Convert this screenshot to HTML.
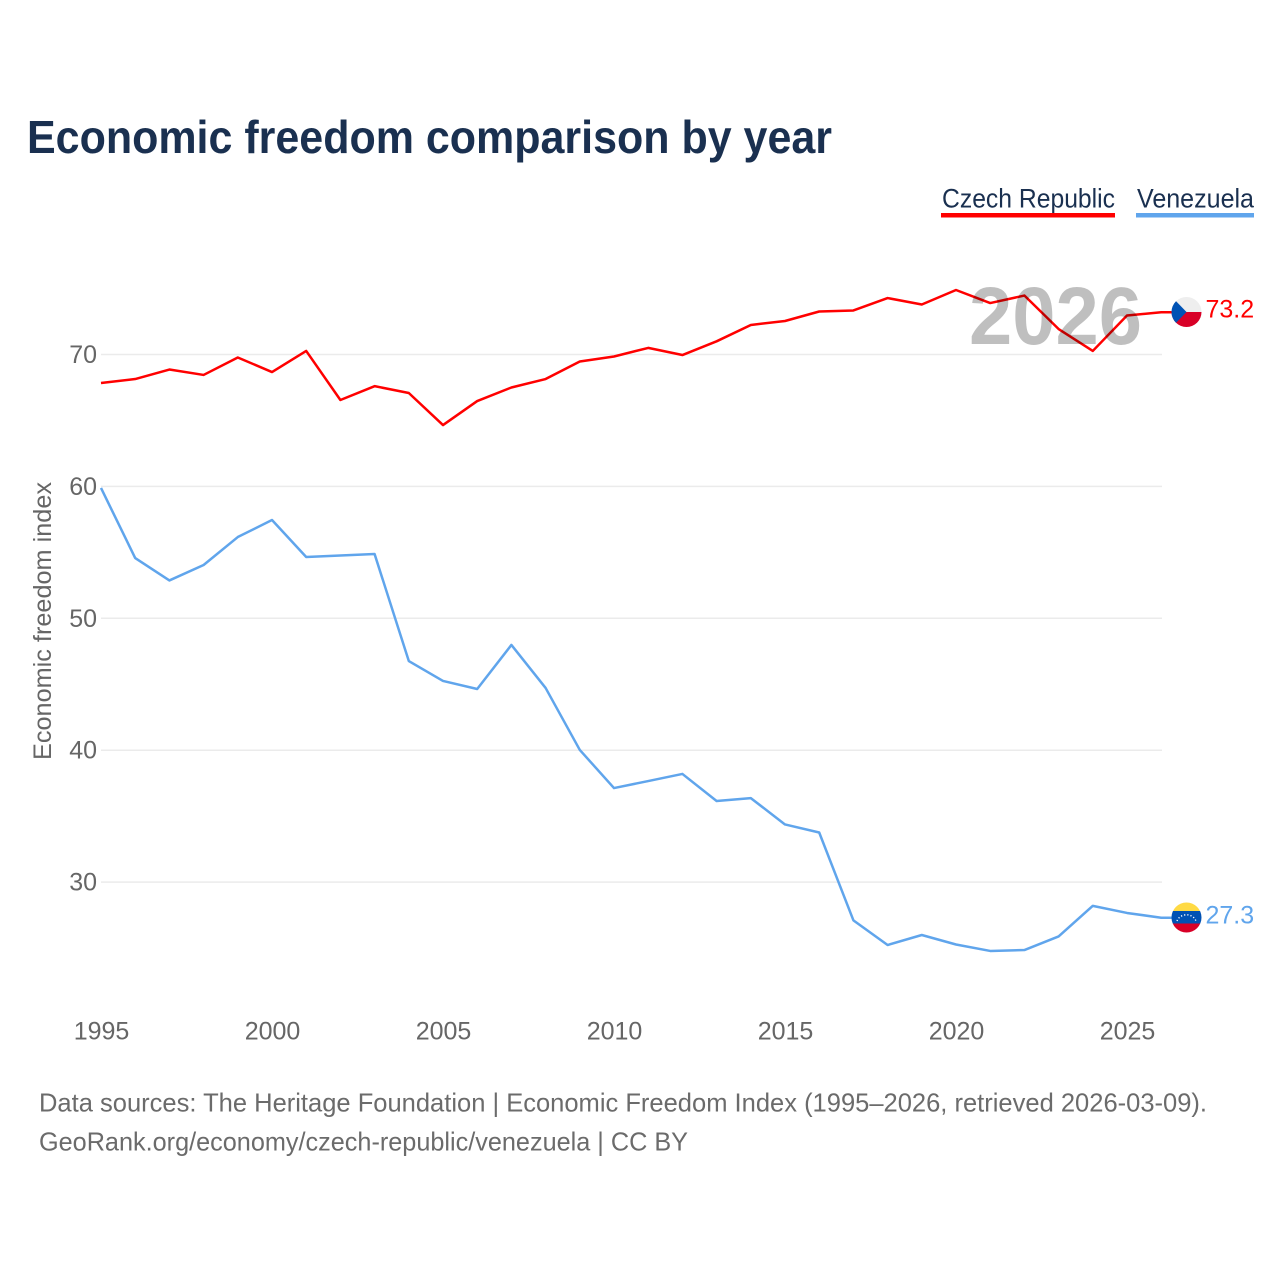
<!DOCTYPE html>
<html lang="en">
<head>
<meta charset="utf-8">
<title>Economic freedom comparison by year</title>
<style>
html,body{margin:0;padding:0;background:#fff;}
svg{display:block;font-family:"Liberation Sans",sans-serif;}
</style>
</head>
<body>
<svg id="chart" width="1280" height="1280" viewBox="0 0 1280 1280" xmlns="http://www.w3.org/2000/svg">
  <defs>
    <clipPath id="flag-clip-cz"><circle cx="1186.5" cy="312" r="15"/></clipPath>
    <clipPath id="flag-clip-ve"><circle cx="1186.5" cy="917.5" r="15"/></clipPath>
  </defs>
  <text x="27" y="153" font-size="46" font-weight="700" fill="#1a3050" textLength="805" lengthAdjust="spacingAndGlyphs">Economic freedom comparison by year</text>

  <g>
    <g>
      <text x="942" y="207.5" font-size="27" fill="#1a3050" textLength="173" lengthAdjust="spacingAndGlyphs">Czech Republic</text>
      <rect x="941" y="213" width="174" height="4.5" fill="#ff0000"/>
    </g>
    <g>
      <text x="1137" y="207.5" font-size="27" fill="#1a3050" textLength="117" lengthAdjust="spacingAndGlyphs">Venezuela</text>
      <rect x="1136" y="213" width="118" height="4.5" fill="#60a5ec"/>
    </g>
  </g>

  <g id="grid"></g>
  <g id="yticks"></g>
  <g id="xticks"></g>
  <text transform="translate(51 760) rotate(-90)" font-size="25" fill="#666" textLength="278" lengthAdjust="spacingAndGlyphs">Economic freedom index</text>

  <g id="series"></g>

  <text x="969" y="344" font-size="82" font-weight="700" fill="#000" fill-opacity="0.25" textLength="173" lengthAdjust="spacingAndGlyphs">2026</text>

  <g clip-path="url(#flag-clip-cz)">
    <rect x="1171" y="296" width="31" height="16" fill="#eeeeee"/>
    <rect x="1171" y="312" width="31" height="16" fill="#d80027"/>
    <polygon points="1171,296 1186.5,312 1171,328" fill="#0052b4"/>
  </g>
  <g clip-path="url(#flag-clip-ve)">
    <rect x="1171" y="902" width="31" height="9" fill="#ffda44"/>
    <rect x="1171" y="911" width="31" height="12.5" fill="#0052b4"/>
    <rect x="1171" y="923.5" width="31" height="10" fill="#d80027"/>
    <path d="M1177 921 A10 9 0 0 1 1196 921" fill="none" stroke="#fff" stroke-width="1.4" stroke-dasharray="1.2 2"/>
  </g>

  <text id="label-cz" x="1205.5" y="317.5" font-size="25" fill="#ff0000"></text>
  <text id="label-ve" x="1205.5" y="923.5" font-size="25" fill="#60a5ec"></text>

  <g>
    <text x="39" y="1111.5" font-size="26" fill="#6b6b6b" textLength="1168" lengthAdjust="spacingAndGlyphs">Data sources: The Heritage Foundation | Economic Freedom Index (1995–2026, retrieved 2026-03-09).</text>
    <text x="39" y="1150.5" font-size="26" fill="#6b6b6b" textLength="649" lengthAdjust="spacingAndGlyphs">GeoRank.org/economy/czech-republic/venezuela | CC BY</text>
  </g>
</svg>
<script>
const years = [1995,1996,1997,1998,1999,2000,2001,2002,2003,2004,2005,2006,2007,2008,2009,2010,2011,2012,2013,2014,2015,2016,2017,2018,2019,2020,2021,2022,2023,2024,2025,2026];
const czechValues = [67.84,68.14,68.86,68.45,69.77,68.67,70.27,66.55,67.6,67.08,64.65,66.47,67.5,68.14,69.47,69.85,70.5,69.96,71,72.24,72.54,73.26,73.34,74.28,73.79,74.89,73.9,74.47,71.93,70.27,72.96,73.2];
const venezuelaValues = [59.88,54.57,52.87,54.04,56.16,57.45,54.65,54.76,54.87,46.76,45.25,44.64,47.98,44.72,40.02,37.13,37.66,38.2,36.15,36.37,34.37,33.76,27.1,25.23,25.99,25.27,24.78,24.85,25.88,28.2,27.66,27.3];
const yTickValues = [70,60,50,40,30];
const xTickValues = [1995,2000,2005,2010,2015,2020,2025];

const NS = 'http://www.w3.org/2000/svg';
function xScale(year){ return 101 + (year - 1995) * 34.2; }
function yScale(v){ return 354.5 + (70 - v) * 13.19; }
function make(tag, attrs, parent){
  const el = document.createElementNS(NS, tag);
  for (const k in attrs) el.setAttribute(k, attrs[k]);
  parent.appendChild(el);
  return el;
}

const grid = document.getElementById('grid');
const yticks = document.getElementById('yticks');
const xticks = document.getElementById('xticks');
const series = document.getElementById('series');

yTickValues.forEach(function(v){
  const line = make('line', {x1:101, x2:1162, y1:yScale(v), y2:yScale(v), stroke:'#ebebeb', 'stroke-width':1.5}, grid);
  
  
  const t = make('text', {x:97, y:yScale(v)+8.5, 'text-anchor':'end', 'font-size':25, fill:'#666'}, yticks);
  t.textContent = String(v);
  
  
});

xTickValues.forEach(function(y){
  const t = make('text', {x:xScale(y)+0.5, y:1039.5, 'text-anchor':'middle', 'font-size':25, fill:'#666'}, xticks);
  t.textContent = String(y);
  
  
});

function drawSeries(values, color){
  const pts = values.map(function(v, i){ return xScale(years[i]).toFixed(2) + ',' + yScale(v).toFixed(2); });
  const lastY = yScale(values[values.length - 1]).toFixed(2);
  pts.push('1172,' + lastY);
  return make('polyline', {points:pts.join(' '), fill:'none', stroke:color, 'stroke-width':2.5, 'stroke-linejoin':'round'}, series);
}
const czLine = drawSeries(czechValues, '#ff0000');


const veLine = drawSeries(venezuelaValues, '#60a5ec');



document.getElementById('label-cz').textContent = czechValues[czechValues.length - 1].toFixed(1);
document.getElementById('label-ve').textContent = venezuelaValues[venezuelaValues.length - 1].toFixed(1);
</script>
</body>
</html>
